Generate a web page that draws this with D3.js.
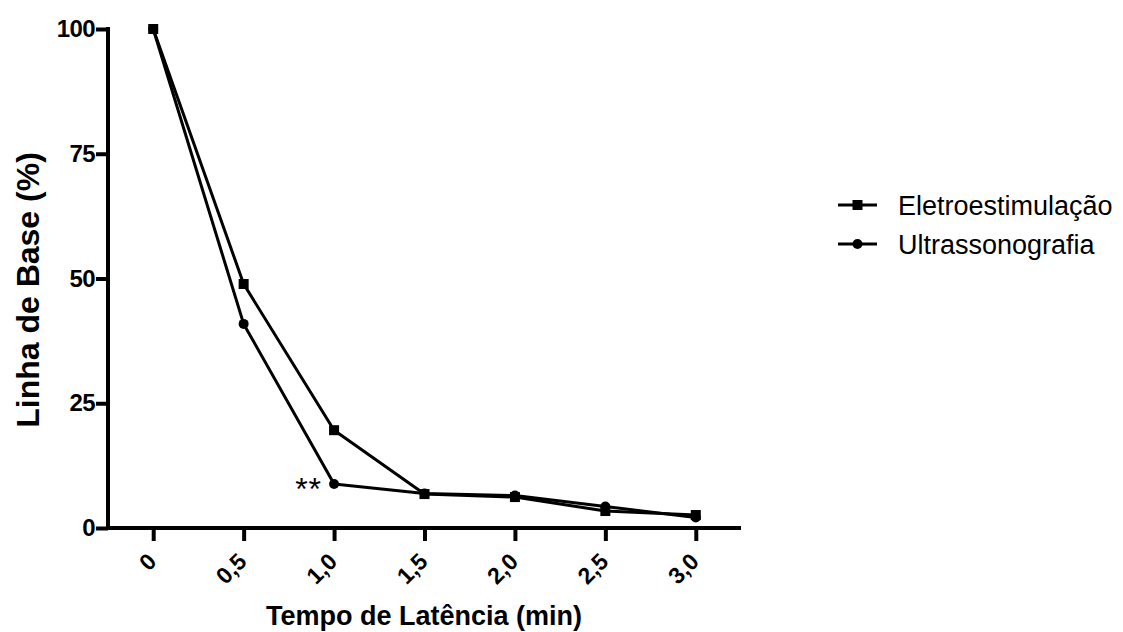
<!DOCTYPE html>
<html>
<head>
<meta charset="utf-8">
<script src="https://cdn.jsdelivr.net/npm/d3@7"></script>
<style>
  body { margin: 0; background: #fff; }
  svg { font-family: "Liberation Sans", Arial, sans-serif; }
</style>
</head>
<body>
<svg id="chart" width="1123" height="632"></svg>
<script>
// tempos (min) e valores
const tempos = [0, 0.5, 1.0, 1.5, 2.0, 2.5, 3.0]
const eletro = [100, 48.9, 19.6, 6.8, 6.2, 3.4, 2.6]
const ultra = [100, 40.9, 8.8, 6.9, 6.5, 4.3, 2.1]
const yTicks = [0, 25, 50, 75, 100]
const xLabels = ["0", "0,5", "1,0", "1,5", "2,0", "2,5", "3,0"]
const seriesNames = ["Eletroestimulação", "Ultrassonografia"]

const svg = d3.select("#chart")

const x = d3.scaleLinear().domain([-0.25, 3.25]).range([108, 741])
const y = d3.scaleLinear().domain([0, 100]).range([528, 29])

const fontFam = "Liberation Sans, Arial, sans-serif"

// eixo y
const yAxis = svg.append("g")
    .attr("transform", "translate(108,0)")
    .call(d3.axisLeft(y).tickValues(yTicks).tickSize(12).tickPadding(1))
yAxis.select(".domain").attr("d", `M0,${y(100) - 2}V${y(0)}`)
yAxis.selectAll("line, path").attr("stroke", "#000").attr("stroke-width", 4)
yAxis.selectAll("text")
    .attr("font-size", 24).attr("font-weight", "bold").attr("fill", "#000")
    .attr("font-family", fontFam)
    .attr("letter-spacing", -0.6)

// eixo x
const xAxis = svg.append("g")
    .attr("transform", `translate(0,${y(0)})`)
    .call(d3.axisBottom(x).tickValues(tempos).tickSize(13).tickFormat((d, i) => xLabels[i]))
xAxis.select(".domain").attr("d", `M${x(-0.25) - 2},0H${x(3.25)}`)
xAxis.selectAll("line, path").attr("stroke", "#000").attr("stroke-width", 4)
xAxis.selectAll("text")
    .attr("font-size", 23).attr("font-weight", "bold").attr("fill", "#000")
    .attr("font-family", fontFam)
    .attr("text-anchor", "end")
    .attr("dy", null)
    .attr("y", 0)
    .attr("transform", "translate(4,35) rotate(-45)")

// títulos dos eixos
svg.append("text")
    .attr("transform", "translate(39,290) rotate(-90)")
    .attr("text-anchor", "middle")
    .attr("font-size", 32).attr("font-weight", "bold")
    .text("Linha de Base (%)")

svg.append("text")
    .attr("x", 424).attr("y", 625)
    .attr("text-anchor", "middle")
    .attr("font-size", 27).attr("font-weight", "bold")
    .text("Tempo de Latência (min)")

const line = d3.line().x((d, i) => x(tempos[i])).y(d => y(d))

const plot = svg.append("g")

function drawSeries(vals, shape) {
    plot.append("path")
        .datum(vals)
        .attr("d", line)
        .attr("fill", "none")
        .attr("stroke", "#000")
        .attr("stroke-width", 3)
        .attr("stroke-linejoin", "round")
    if (shape == "square") {
        plot.selectAll(null).data(vals).enter().append("rect")
            .attr("x", (d, i) => x(tempos[i]) - 5)
            .attr("y", d => y(d) - 5)
            .attr("width", 10).attr("height", 10)
            .attr("fill", "#000")
    } else {
        plot.selectAll(null).data(vals).enter().append("circle")
            .attr("cx", (d, i) => x(tempos[i]))
            .attr("cy", d => y(d))
            .attr("r", 5)
            .attr("fill", "#000")
    }
}

drawSeries(eletro, "square")
drawSeries(ultra, "circle")

// significância
svg.append("text")
    .attr("x", x(1.0) - 12).attr("y", y(ultra[2]) + 16)
    .attr("text-anchor", "end")
    .attr("font-size", 32)
    .attr("letter-spacing", 1)
    .text("**")

// legenda
const legend = svg.append("g").attr("transform", "translate(838,205)")
seriesNames.forEach((name, i) => {
    const g = legend.append("g").attr("transform", `translate(0,${i * 39})`)
    g.append("line").attr("x1", 0).attr("x2", 39).attr("y1", 0).attr("y2", 0)
        .attr("stroke", "#000").attr("stroke-width", 3)
    if (i == 0) {
        g.append("rect").attr("x", 14.5).attr("y", -5).attr("width", 10).attr("height", 10)
    } else {
        g.append("circle").attr("cx", 19.5).attr("cy", 0).attr("r", 5)
    }
    g.append("text").attr("x", 60).attr("y", 10)
        .attr("font-size", 27)
        .text(name)
})
</script>
</body>
</html>
